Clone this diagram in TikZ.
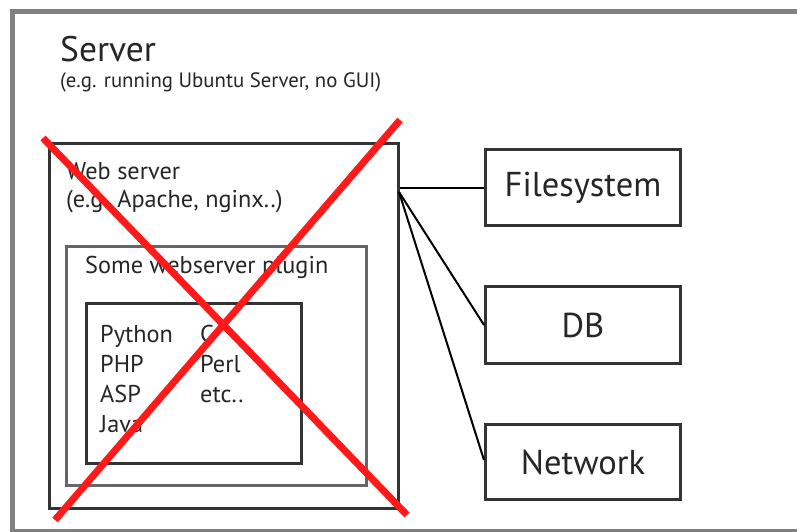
\documentclass[tikz,border=0pt]{standalone}
\usepackage{fontspec}
\setmainfont{PT Sans}
\begin{document}
\begin{tikzpicture}[x=1pt,y=-1pt,
  box/.style={draw=black!80,line width=3pt,fill=none,inner sep=0pt,anchor=north west},
  lbl/.style={anchor=base west,inner sep=0pt,text=black!85,font=\fontsize{24.3}{24.3}\selectfont},
  big/.style={text=black!85,font=\fontsize{34.5}{34.5}\selectfont},
  conn/.style={draw=black,line width=2pt},
  cross/.style={draw=red!90!white,line width=7pt}]
\useasboundingbox (0,0) rectangle (797,532);
\fill[white] (0,0) rectangle (797,532);
% outer server frame
\node[draw=black!50,line width=5pt,anchor=north west,minimum width=820pt,minimum height=520pt,inner sep=0pt] (server) at (10,9) {};
\node[lbl,font=\fontsize{35.5}{35.5}\selectfont] (servert) at (60,62) {Server};
\node[lbl,font=\fontsize{20.8}{20.8}\selectfont] (serverst) at (60,88) {(e.g. running Ubuntu Server, no GUI)};
% boxes
\node[box,minimum width=349pt,minimum height=365pt] (web) at (48,142) {};
\node[box,draw=black!60,minimum width=300pt,minimum height=239pt] (plugin) at (65,245) {};
\node[box,minimum width=215pt,minimum height=160pt] (lang) at (85,302) {};
\node[lbl] (webt) at (66,179) {Web server};
\node[lbl] (webst) at (66,207) {(e.g. Apache, nginx..)};
\node[lbl] (plugint) at (85,273) {Some webserver plugin};
\node[lbl] (l1) at (100,342) {Python};
\node[lbl] (l2) at (100,372) {PHP};
\node[lbl] (l3) at (100,402) {ASP};
\node[lbl] (l4) at (100,432) {Java};
\node[lbl] (l5) at (200,342) {C};
\node[lbl] (l6) at (200,372) {Perl};
\node[lbl] (l7) at (200,402) {etc..};
% right boxes
\node[box,minimum width=195pt,minimum height=76pt] (fs) at (484,148) {};
\node[big] (fst) at (fs.center) {Filesystem};
\node[box,minimum width=195pt,minimum height=77pt] (db) at (484,285) {};
\node[big] (dbt) at (db.center) {DB};
\node[box,minimum width=195pt,minimum height=75pt] (net) at (484,423) {};
\node[big] (nett) at (net.center) {Network};
% connectors
\coordinate (hub) at (399,192);
\draw[conn] (web.east |- fs.west) -- (fs.west);
\draw[conn] (hub) -- (db.west);
\draw[conn] (hub) -- (net.west |- 0,460);
% red cross
\coordinate (x1) at (43,138);
\coordinate (x2) at (407,515);
\coordinate (x3) at (400,120);
\coordinate (x4) at (55,520);
\draw[cross] (x1) -- (x2);
\draw[cross] (x3) -- (x4);
\end{tikzpicture}
\end{document}
